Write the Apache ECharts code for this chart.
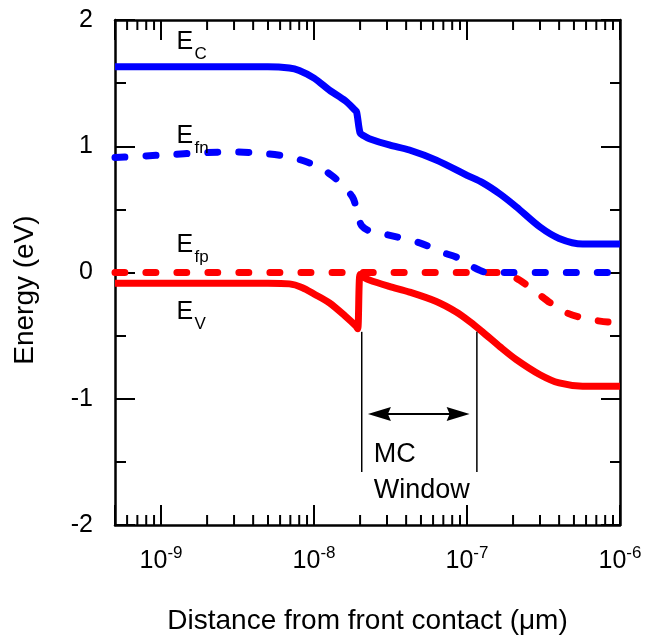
<!DOCTYPE html>
<html>
<head>
<meta charset="utf-8">
<script src="https://cdn.jsdelivr.net/npm/echarts@6/dist/echarts.min.js"></script>
<style>
  html, body { margin: 0; padding: 0; background: #fff; }
  #chart { width: 645px; height: 637px; }
</style>
</head>
<body>
<div id="chart"></div>
<script>
// Band diagram: distance from front contact (µm, log scale) vs energy (eV)

// Conduction band edge E_C
const ecX = [5e-10, 5e-9, 6.9e-9, 8e-9, 1e-8, 1.26e-8, 1.6e-8, 1.85e-8, 1.9e-8, 2e-8, 2.1e-8, 2.3e-8, 3.1e-8, 4.2e-8, 6.3e-8, 1e-7, 1.27e-7, 1.65e-7, 2.1e-7, 3e-7, 4e-7, 5.7e-7, 1e-6];
const ecY = [1.63, 1.63, 1.62, 1.60, 1.54, 1.445, 1.36, 1.287, 1.27, 1.105, 1.085, 1.06, 1.01, 0.97, 0.89, 0.77, 0.71, 0.62, 0.52, 0.36, 0.27, 0.225, 0.225];

// Electron quasi-Fermi level E_fn
const efnX = [5e-10, 1e-9, 2e-9, 3e-9, 5e-9, 7e-9, 9e-9, 1.1e-8, 1.3e-8, 1.55e-8, 1.78e-8, 1.85e-8, 1.95e-8, 2.05e-8, 2.3e-8, 3e-8, 4.9e-8, 6.9e-8, 9e-8, 1.04e-7, 1.2e-7, 1.35e-7, 1e-6];
const efnY = [0.91, 0.93, 0.95, 0.955, 0.94, 0.915, 0.875, 0.83, 0.77, 0.69, 0.60, 0.55, 0.44, 0.37, 0.33, 0.30, 0.235, 0.16, 0.11, 0.06, 0.02, 0, 0];

// Hole quasi-Fermi level E_fp
const efpX = [5e-10, 1.6e-7, 1.8e-7, 2.2e-7, 2.86e-7, 3.5e-7, 4.5e-7, 5.7e-7, 7.4e-7, 1e-6];
const efpY = [0, 0, -0.01, -0.06, -0.16, -0.24, -0.32, -0.36, -0.385, -0.40];

// Valence band edge E_V
const evX = [5e-10, 5e-9, 6.9e-9, 8.4e-9, 1e-8, 1.26e-8, 1.6e-8, 1.88e-8, 1.93e-8, 2e-8, 2.1e-8, 2.3e-8, 3.1e-8, 4.2e-8, 6.3e-8, 8.5e-8, 1.04e-7, 1.27e-7, 1.65e-7, 2.1e-7, 3e-7, 4e-7, 5.7e-7, 1e-6];
const evY = [-0.085, -0.085, -0.09, -0.12, -0.17, -0.24, -0.345, -0.424, -0.445, -0.015, -0.035, -0.06, -0.11, -0.155, -0.23, -0.313, -0.388, -0.473, -0.59, -0.69, -0.81, -0.875, -0.90, -0.90];

// Axis ranges and tick values
const X_MIN = 5e-10, X_MAX = 1e-6;
const Y_MIN = -2, Y_MAX = 2, Y_STEP = 1;
const xMinorMantissas = [2, 3, 4, 5, 6, 7, 8, 9];
const xDecades = [1e-10, 1e-9, 1e-8, 1e-7];

// MC window annotation (data units)
const windowLeftX = 2.05e-8, windowRightX = 1.16e-7;
const windowTopY = -0.47, windowBottomY = -1.58;
const arrowLeftX = 2.25e-8, arrowRightX = 1.04e-7, arrowY = -1.12;

const FONT = '"Liberation Sans", Arial, Helvetica, sans-serif';
const BLUE = '#0000ff';
const RED = '#ff0000';

const xMinorTicks = [];
xDecades.forEach(d => xMinorMantissas.forEach(m => {
  const v = m * d;
  if (v > X_MIN * 1.0001 && v < X_MAX * 0.9999) xMinorTicks.push(v);
}));

const zip = (xs, ys) => xs.map((x, i) => [x, ys[i]]);

function powLabel(v) {
  const e = Math.log10(v);
  if (Math.abs(e - Math.round(e)) > 1e-6) return '';
  return '{b|10}{s|' + Math.round(e) + '}';
}

const axisLineStyle = { color: '#000', width: 2.5 };
const tickStyle = { color: '#000', width: 2 };

const lineSeries = (name, data, color, dashed) => ({
  name, type: 'line', data,
  xAxisIndex: 0, yAxisIndex: 0,
  showSymbol: false, symbol: 'none',
  smooth: 0.3,
  lineStyle: {
    color, width: 7,
    type: dashed ? [10, 21] : 'solid',
    cap: dashed ? 'round' : 'butt',
    join: 'round'
  },
  clip: true,
  z: 3
});

const option = {
  animation: false,
  backgroundColor: '#fff',
  grid: { left: 115, right: 25, top: 20, bottom: 112, containLabel: false, outerBoundsMode: 'none' },
  xAxis: [
    {
      type: 'log', logBase: 10, min: X_MIN, max: X_MAX, position: 'bottom',
      axisLine: { show: true, onZero: false, lineStyle: axisLineStyle },
      axisTick: { show: true, inside: true, length: 20, lineStyle: tickStyle },
      splitLine: { show: false },
      axisLabel: {
        show: true, margin: 20, formatter: powLabel,
        rich: {
          b: { fontSize: 25, fontFamily: FONT, color: '#000', lineHeight: 32 },
          s: { fontSize: 17, fontFamily: FONT, color: '#000', lineHeight: 17, verticalAlign: 'top' }
        }
      },
      name: 'Distance from front contact (μm)',
      nameLocation: 'middle', nameGap: 82,
      nameTextStyle: { fontSize: 28, fontFamily: FONT, color: '#000' }
    },
    {
      type: 'log', logBase: 10, min: X_MIN, max: X_MAX, position: 'top',
      axisLine: { show: true, onZero: false, lineStyle: axisLineStyle },
      axisTick: { show: true, inside: true, length: 20, lineStyle: tickStyle },
      splitLine: { show: false },
      axisLabel: { show: false }
    }
  ],
  yAxis: [
    {
      type: 'value', min: Y_MIN, max: Y_MAX, interval: Y_STEP, position: 'left',
      axisLine: { show: true, onZero: false, lineStyle: axisLineStyle },
      axisTick: { show: true, inside: true, length: 20, lineStyle: tickStyle },
      minorTick: { show: true, splitNumber: 2, length: 11, lineStyle: tickStyle },
      splitLine: { show: false },
      minorSplitLine: { show: false },
      axisLabel: { margin: 22, fontSize: 25, fontFamily: FONT, color: '#000' }
    },
    {
      type: 'value', min: Y_MIN, max: Y_MAX, interval: Y_STEP, position: 'right',
      axisLine: { show: true, onZero: false, lineStyle: axisLineStyle },
      axisTick: { show: true, inside: true, length: 19, lineStyle: tickStyle },
      minorTick: { show: true, splitNumber: 2, length: 10, lineStyle: tickStyle },
      splitLine: { show: false },
      minorSplitLine: { show: false },
      axisLabel: { show: false }
    }
  ],
  series: [
    lineSeries('E_V', zip(evX, evY), RED, false),
    lineSeries('E_fp', zip(efpX, efpY), RED, true),
    lineSeries('E_fn', zip(efnX, efnY), BLUE, true),
    lineSeries('E_C', zip(ecX, ecY), BLUE, false),
    {
      // minor ticks of the log axis, on bottom and top edges
      type: 'custom', xAxisIndex: 0, yAxisIndex: 0, silent: true, clip: false, z: 5,
      data: xMinorTicks.map(v => [v, 0]),
      renderItem(params, api) {
        const v = api.value(0);
        const x = api.coord([v, 0])[0];
        const yb = api.coord([v, Y_MIN])[1];
        const yt = api.coord([v, Y_MAX])[1];
        return {
          type: 'group',
          children: [
            { type: 'line', shape: { x1: x, y1: yb, x2: x, y2: yb - 10 }, style: { stroke: '#000', lineWidth: 2 } },
            { type: 'line', shape: { x1: x, y1: yt, x2: x, y2: yt + 10 }, style: { stroke: '#000', lineWidth: 2 } }
          ]
        };
      }
    }
  ]
};

const chart = echarts.init(document.getElementById('chart'), null, { renderer: 'canvas' });
chart.setOption(option);

// Annotations placed through the axes' own coordinate conversion
const toPx = (x, y) => chart.convertToPixel({ seriesIndex: 0 }, [x, y]);

function textEl(str, pt, size, opts) {
  opts = opts || {};
  return {
    type: 'text', x: pt[0], y: pt[1], rotation: opts.rotation || 0, z: 10,
    style: {
      text: str, fill: '#000', font: size + 'px ' + FONT,
      textAlign: opts.align || 'left', align: opts.align || 'left',
      textVerticalAlign: 'middle', verticalAlign: 'middle'
    }
  };
}

function bandLabel(main, sub, x, y) {
  const p = toPx(x, y);
  return [
    textEl(main, p, 25),
    textEl(sub, [p[0] + 18, p[1] + 12], 17)
  ];
}

const labelX = 1.26e-9;
const wl0 = toPx(windowLeftX, windowTopY), wl1 = toPx(windowLeftX, windowBottomY);
const wr0 = toPx(windowRightX, windowTopY), wr1 = toPx(windowRightX, windowBottomY);
const aL = toPx(arrowLeftX, arrowY), aR = toPx(arrowRightX, arrowY);
const headLen = 23, headHalf = 7, notch = 3;
const textLeft = toPx(2.46e-8, -1.44);
const textLeft2 = toPx(2.46e-8, -1.725);

const graphics = [].concat(
  bandLabel('E', 'C', labelX, 1.826),
  bandLabel('E', 'fn', labelX, 1.081),
  bandLabel('E', 'fp', labelX, 0.218),
  bandLabel('E', 'V', labelX, -0.313),
  [
    { type: 'line', z: 10, shape: { x1: wl0[0], y1: wl0[1], x2: wl1[0], y2: wl1[1] }, style: { stroke: '#000', lineWidth: 1.5 } },
    { type: 'line', z: 10, shape: { x1: wr0[0], y1: wr0[1], x2: wr1[0], y2: wr1[1] }, style: { stroke: '#000', lineWidth: 1.5 } },
    { type: 'line', z: 10, shape: { x1: aL[0] + headLen - 4, y1: aL[1], x2: aR[0] - headLen + 4, y2: aR[1] }, style: { stroke: '#000', lineWidth: 2 } },
    { type: 'polygon', z: 10, shape: { points: [[aL[0], aL[1]], [aL[0] + headLen, aL[1] - headHalf], [aL[0] + headLen - notch, aL[1]], [aL[0] + headLen, aL[1] + headHalf]] }, style: { fill: '#000' } },
    { type: 'polygon', z: 10, shape: { points: [[aR[0], aR[1]], [aR[0] - headLen, aR[1] - headHalf], [aR[0] - headLen + notch, aR[1]], [aR[0] - headLen, aR[1] + headHalf]] }, style: { fill: '#000' } },
    textEl('MC', textLeft, 27),
    textEl('Window', textLeft2, 27),
    textEl('Energy (eV)', [25, 290], 28, { rotation: Math.PI / 2, align: 'center' })
  ]
);

chart.setOption({ graphic: { elements: graphics } });
</script>
</body>
</html>
